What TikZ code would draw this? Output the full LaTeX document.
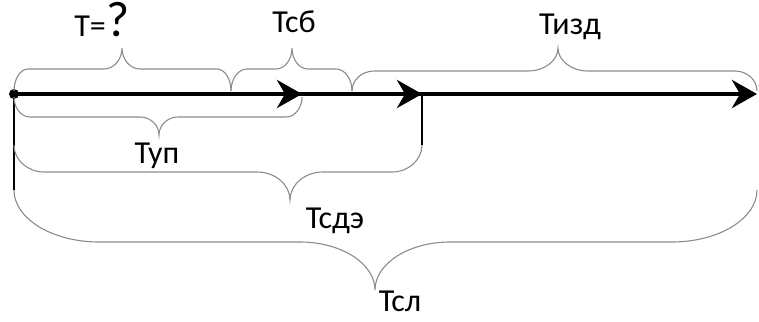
\documentclass[tikz,border=0pt]{standalone}
\usepackage{fontspec}
\setmainfont{Carlito}
\usetikzlibrary{arrows.meta}
% brace: x0, x1, xtip, yend, yhoriz, ytip, rend, rtip
\newcommand\bracepath[8]{%
  \draw[bracestyle] (#1,#4)
    .. controls (#1,{#4+0.55*(#5-#4)}) and ({#1+0.45*#7},#5) .. ({#1+#7},#5)
    -- ({#3-#8},#5)
    .. controls ({#3-0.45*#8},#5) and (#3,{#6-0.55*(#6-#5)}) .. (#3,#6)
    .. controls (#3,{#6-0.55*(#6-#5)}) and ({#3+0.45*#8},#5) .. ({#3+#8},#5)
    -- ({#2-#7},#5)
    .. controls ({#2-0.45*#7},#5) and (#2,{#4+0.55*(#5-#4)}) .. (#2,#4);}
\begin{document}
\begin{tikzpicture}[x=1pt,y=-1pt,
  bracestyle/.style={draw=black!45,line width=1.1pt},
  mainarrow/.style={line width=4.5pt,-{Stealth[length=25pt,width=28pt,inset=8pt]}},
  thinline/.style={line width=1.4pt},
  lbl/.style={font=\fontsize{32}{34}\selectfont,anchor=base,inner sep=0pt}]
\useasboundingbox (0,0) rectangle (759,321);
% points
\node[circle,fill=black,inner sep=0pt,minimum size=10pt] (o) at (14,94) {};
\coordinate (a1) at (302,94);
\coordinate (a2) at (422,94);
\coordinate (a3) at (757,94);
\coordinate (v1) at (14,190);
\coordinate (v2) at (422,145);
% thin vertical lines
\draw[thinline] (o.center) -- (v1);
\draw[thinline] (a2) -- (v2);
% braces
\bracepath{14}{231}{122}{91}{69}{48}{14}{18}
\bracepath{231}{352}{292}{91}{69}{48}{16}{16}
\bracepath{352}{757}{558}{91}{71}{48}{22}{30}
\bracepath{14}{302}{159}{97}{117}{135}{16}{19}
\bracepath{14}{422}{290}{145}{172}{200}{30}{33}
\bracepath{14}{757}{375}{190}{242}{290}{85}{75}
% arrows
\draw[mainarrow] (o.center) -- (a3);
\draw[mainarrow] (o.center) -- (a2);
\draw[mainarrow] (o.center) -- (a1);
% labels
\node[lbl,anchor=base east] (tq) at (106,37) {T=};
\node[font=\fontsize{50}{52}\selectfont,anchor=base west,inner sep=0pt] (q) at (tq.base east) {?};
\node[lbl] (tsb) at (294,33) {Тсб};
\node[lbl] (tizd) at (570,35) {Тизд};
\node[lbl] (tup) at (157,163) {Туп};
\node[lbl] (tsde) at (335,228) {Тсдэ};
\node[lbl] (tsl) at (400,311) {Тсл};
\end{tikzpicture}
\end{document}
